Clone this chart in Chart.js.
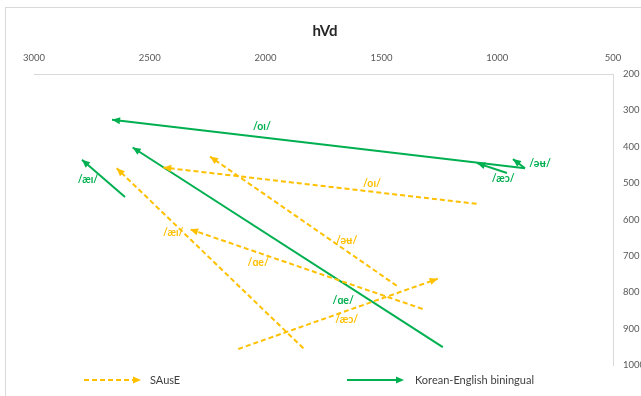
<!DOCTYPE html>
<html>
<head>
<meta charset="utf-8">
<script src="https://cdn.jsdelivr.net/npm/chart.js@4/dist/chart.umd.min.js"></script>
<style>
  html, body { margin: 0; padding: 0; background: #fff; }
  canvas { display: block; }
</style>
</head>
<body>
<canvas id="c" width="641" height="396"></canvas>
<script>
// Diphthong trajectories in the F2 (x, Hz) / F1 (y, Hz) plane, onset -> offset
const vowels = ['/æɪ/', '/ɑe/', '/oɪ/', '/æɔ/', '/əʉ/'];

const sauseF2Onset  = [1837, 1322, 1089, 2118, 1434];
const sauseF1Onset  = [954, 846, 557, 956, 782];
const sauseF2Offset = [2643, 2326, 2442, 1257, 2240];
const sauseF1Offset = [459, 627, 457, 763, 427];

const koreanF2Onset  = [2607, 1235, 880, 958, 880];
const koreanF1Onset  = [538, 951, 459, 472, 459];
const koreanF2Offset = [2793, 2574, 2663, 1087, 932];
const koreanF1Offset = [436, 402, 326, 445, 434];

// Where each vowel label sits, in Hz
const sauseLabelF2  = [2399, 2032, 1541, 1650, 1650];
const sauseLabelF1  = [636, 718, 502, 874, 658];
const koreanLabelF2 = [2767, 1665, 2016, 974, 815];
const koreanLabelF1 = [491, 823, 346, 487, 445];

const f2Ticks = [3000, 2500, 2000, 1500, 1000, 500];
const f1Ticks = [200, 300, 400, 500, 600, 700, 800, 900, 1000];

const groups = ['SAusE', 'Korean-English biningual'];
const chartTitle = 'hVd';

const YELLOW = '#FFC000';
const GREEN = '#00B050';
const FONT = 'Lato, "Open Sans", "DejaVu Sans", sans-serif';

function makeSets(group, f2a, f1a, f2b, f1b, color, dash) {
  return vowels.map((v, i) => ({
    label: group + ' ' + v,
    group: group,
    data: [{ x: f2a[i], y: f1a[i] }, { x: f2b[i], y: f1b[i] }],
    showLine: true,
    borderColor: color,
    backgroundColor: color,
    borderWidth: 2,
    borderDash: dash,
    pointRadius: 0,
    pointHoverRadius: 0
  }));
}

const datasets = [
  ...makeSets(groups[0], sauseF2Onset, sauseF1Onset, sauseF2Offset, sauseF1Offset, YELLOW, [5, 3]),
  ...makeSets(groups[1], koreanF2Onset, koreanF1Onset, koreanF2Offset, koreanF1Offset, GREEN, [])
];

function arrowHead(ctx, x0, y0, x1, y1, color) {
  const a = Math.atan2(y1 - y0, x1 - x0);
  const L = 8, W = 3.6;
  ctx.save();
  ctx.fillStyle = color;
  ctx.beginPath();
  ctx.moveTo(x1, y1);
  ctx.lineTo(x1 - L * Math.cos(a) + W * Math.sin(a), y1 - L * Math.sin(a) - W * Math.cos(a));
  ctx.lineTo(x1 - L * Math.cos(a) - W * Math.sin(a), y1 - L * Math.sin(a) + W * Math.cos(a));
  ctx.closePath();
  ctx.fill();
  ctx.restore();
}

const decorations = {
  id: 'decorations',
  beforeDraw(chart) {
    const ctx = chart.ctx;
    ctx.save();
    ctx.fillStyle = '#fff';
    ctx.fillRect(0, 0, chart.width, chart.height);
    ctx.strokeStyle = '#d9d9d9';
    ctx.lineWidth = 1;
    ctx.strokeRect(5.5, 7.5, chart.width + 20, chart.height + 20);
    // title
    ctx.fillStyle = '#262626';
    ctx.font = 'bold 15px ' + FONT;
    ctx.textAlign = 'center';
    ctx.textBaseline = 'middle';
    ctx.fillText(chartTitle, 325, 31);
    ctx.restore();
  },
  afterDatasetsDraw(chart) {
    const ctx = chart.ctx;
    const xs = chart.scales.x, ys = chart.scales.y;
    chart.data.datasets.forEach((ds, i) => {
      const pts = chart.getDatasetMeta(i).data;
      const p0 = pts[pts.length - 2], p1 = pts[pts.length - 1];
      arrowHead(ctx, p0.x, p0.y, p1.x, p1.y, ds.borderColor);
    });
    ctx.save();
    ctx.font = 'bold 10.5px ' + FONT;
    ctx.textAlign = 'center';
    ctx.textBaseline = 'middle';
    vowels.forEach((v, i) => {
      ctx.fillStyle = YELLOW;
      ctx.fillText(v, xs.getPixelForValue(sauseLabelF2[i]), ys.getPixelForValue(sauseLabelF1[i]));
      ctx.fillStyle = GREEN;
      ctx.fillText(v, xs.getPixelForValue(koreanLabelF2[i]), ys.getPixelForValue(koreanLabelF1[i]));
    });
    ctx.restore();
  },
  afterDraw(chart) {
    // legend
    const ctx = chart.ctx;
    const y = 380;
    const items = [
      { x0: 84, x1: 141, tx: 150, color: YELLOW, dash: [5, 3], text: groups[0] },
      { x0: 347, x1: 404, tx: 415, color: GREEN, dash: [], text: groups[1] }
    ];
    items.forEach(it => {
      ctx.save();
      ctx.strokeStyle = it.color;
      ctx.lineWidth = 2;
      ctx.setLineDash(it.dash);
      ctx.beginPath();
      ctx.moveTo(it.x0, y);
      ctx.lineTo(it.x1 - 6, y);
      ctx.stroke();
      ctx.restore();
      arrowHead(ctx, it.x0, y, it.x1, y, it.color);
      ctx.save();
      ctx.fillStyle = '#404040';
      ctx.font = '11px ' + FONT;
      ctx.textAlign = 'left';
      ctx.textBaseline = 'middle';
      ctx.fillText(it.text, it.tx, y);
      ctx.restore();
    });
  }
};

new Chart(document.getElementById('c'), {
  type: 'scatter',
  data: { datasets },
  plugins: [decorations],
  options: {
    responsive: false,
    animation: false,
    devicePixelRatio: 1,
    layout: { padding: { top: 50, left: 34, right: 0, bottom: 31 } },
    plugins: { legend: { display: false }, title: { display: false }, tooltip: { enabled: false } },
    events: [],
    scales: {
      x: {
        type: 'linear',
        position: 'top',
        reverse: true,
        min: 500,
        max: 3000,
        afterBuildTicks: s => { s.ticks = f2Ticks.map(v => ({ value: v })); },
        afterFit: s => { s.height = 24; },
        grid: { drawOnChartArea: false, drawTicks: false },
        border: { display: true, color: '#d9d9d9', width: 1 },
        ticks: { color: '#595959', font: { family: FONT, size: 9.5 }, padding: 10, maxRotation: 0, autoSkip: false, callback: v => String(v) }
      },
      y: {
        type: 'linear',
        position: 'right',
        reverse: true,
        min: 200,
        max: 1000,
        afterBuildTicks: s => { s.ticks = f1Ticks.map(v => ({ value: v })); },
        afterFit: s => { s.width = 28; },
        grid: { drawOnChartArea: false, drawTicks: false },
        border: { display: true, color: '#d9d9d9', width: 1 },
        ticks: { color: '#595959', font: { family: FONT, size: 9.5 }, padding: 10, autoSkip: false, callback: v => String(v) }
      }
    }
  }
});
</script>
</body>
</html>
